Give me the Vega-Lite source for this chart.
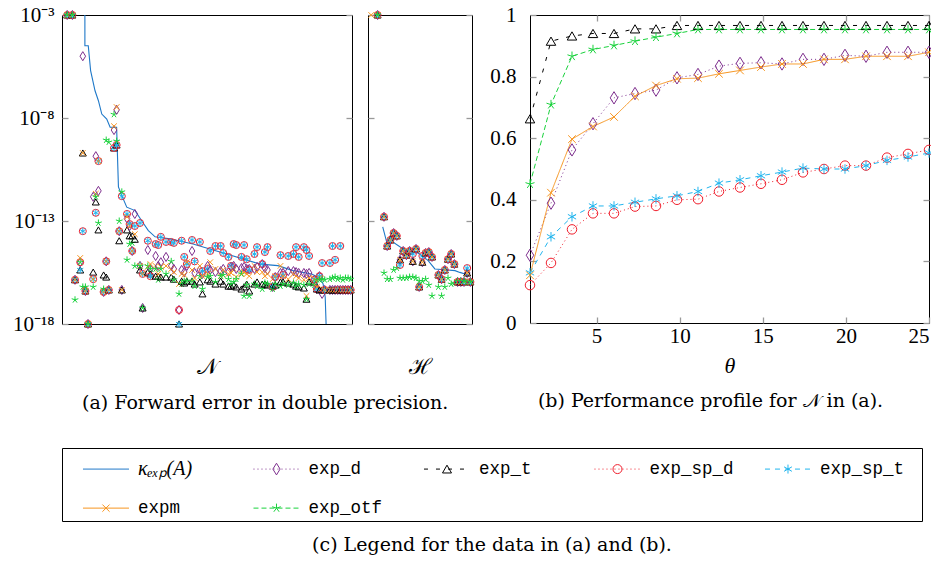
{
  "$schema": "https://vega.github.io/schema/vega-lite/v6.json",
  "padding": {"left": 11, "top": 3, "right": 0, "bottom": 0},
  "config": {
    "view": {"stroke": "#000", "strokeWidth": 1},
    "axis": {"grid": false, "domain": false, "labelFont": "Liberation Serif", "labelFontSize": 21, "labelColor": "#000", "titleFont": "Liberation Serif", "titleFontSize": 22, "titleFontWeight": "normal", "titleColor": "#000", "tickColor": "#999", "tickWidth": 1.3, "tickSize": -6, "labelPadding": 14},
    "title": {"font": "DejaVu Serif", "fontSize": 19, "fontWeight": "normal", "color": "#000", "orient": "bottom", "anchor": "middle", "offset": 16}
  },
  "datasets": {
    "kapN": [
      {"i": 8.8, "kappa": 1e-2}, {"i": 8.8, "kappa": 3.2e-5}, {"i": 10.1, "kappa": 3.2e-5}, {"i": 11.0, "kappa": 2e-6}, {"i": 12.7, "kappa": 2.1e-7}, {"i": 14.0, "kappa": 6.9e-8}, {"i": 15.3, "kappa": 1.55e-8}, {"i": 17.2, "kappa": 8.9e-9}, {"i": 18.5, "kappa": 3.6e-9}, {"i": 21.0, "kappa": 3.5e-9}, {"i": 21.7, "kappa": 4.5e-12}, {"i": 23.0, "kappa": 1.7e-12}, {"i": 24.9, "kappa": 4.7e-13}, {"i": 28.1, "kappa": 3.2e-13}, {"i": 30.7, "kappa": 1.0e-13}, {"i": 33.2, "kappa": 3.4e-14}, {"i": 35.8, "kappa": 1.7e-14}, {"i": 41.5, "kappa": 1.35e-14}, {"i": 50.4, "kappa": 7.6e-15}, {"i": 63.3, "kappa": 2.5e-15}, {"i": 76.2, "kappa": 8.1e-16}, {"i": 83, "kappa": 6.8e-16}, {"i": 88.8, "kappa": 3.9e-16}, {"i": 96, "kappa": 2.7e-16}, {"i": 99.2, "kappa": 1.7e-16}, {"i": 100.4, "kappa": 8.7e-17}, {"i": 101.2, "kappa": 2.0e-17}, {"i": 101.8, "kappa": 1e-19}
    ],
    "kapH": [
      {"i": 4.6, "kappa": 5.2e-14}, {"i": 5.8, "kappa": 1.0e-14}, {"i": 7.9, "kappa": 9.3e-15}, {"i": 11, "kappa": 4.4e-15}, {"i": 15.2, "kappa": 3.0e-15}, {"i": 16.8, "kappa": 2.1e-15}, {"i": 18.8, "kappa": 1.2e-15}, {"i": 20.9, "kappa": 4.7e-16}, {"i": 23, "kappa": 4.4e-16}, {"i": 27.2, "kappa": 3.9e-16}, {"i": 28.7, "kappa": 3.2e-16}, {"i": 30.8, "kappa": 2.5e-16}, {"i": 31.9, "kappa": 2.2e-16}
    ],
    "errN": [
      {"i": 2, "exp_d": 1e-3, "exp_t": 1e-3, "exp_sp_d": 1e-3, "exp_sp_t": 1e-3, "expm": 1e-3, "exp_otf": 1e-3},
      {"i": 4, "exp_d": 1e-3, "exp_t": 1e-3, "exp_sp_d": 1e-3, "exp_sp_t": 1e-3, "expm": 1e-3, "exp_otf": 1e-3},
      {"i": 5, "exp_d": 1.4e-16, "exp_t": 1.4e-16, "exp_sp_d": 1.4e-16, "exp_sp_t": 1.4e-16, "expm": 1.4e-16, "exp_otf": 1.5e-17},
      {"i": 7, "exp_d": 1e-15, "exp_t": 4.2e-16, "exp_sp_d": 1e-15, "exp_sp_t": 4.2e-16, "expm": 1.6e-15, "exp_otf": 1e-15},
      {"i": 8, "exp_d": 1e-5, "exp_t": 2e-10, "exp_sp_d": 3.2e-14, "exp_sp_t": 3.2e-14, "expm": 2e-10, "exp_otf": 6.3e-17},
      {"i": 9, "exp_d": 4e-17, "exp_t": 4e-17, "exp_sp_d": 4e-17, "exp_sp_t": 4e-17, "expm": 4e-17, "exp_otf": 6.3e-17},
      {"i": 10, "exp_d": 1e-18, "exp_t": 1e-18, "exp_sp_d": 1e-18, "exp_sp_t": 1e-18, "expm": 1e-18, "exp_otf": 1e-18},
      {"i": 12, "exp_d": 1.5e-12, "exp_t": 3.3e-16, "exp_sp_d": 1.5e-16, "exp_sp_t": 1.5e-16, "expm": 1.5e-16, "exp_otf": 6.3e-17},
      {"i": 13, "exp_d": 1.4e-10, "exp_t": 8.4e-13, "exp_sp_d": 2.5e-13, "exp_sp_t": 2.5e-13, "expm": 2.1e-12, "exp_otf": 1.5e-12},
      {"i": 14, "exp_d": 2.9e-12, "exp_t": 3.7e-14, "exp_sp_d": 8.1e-11, "exp_sp_t": 8.1e-11, "expm": 8.1e-11, "exp_otf": 8e-14},
      {"i": 16, "exp_d": 3.6e-17, "exp_t": 2.4e-16, "exp_sp_d": 3.6e-17, "exp_sp_t": 3.6e-17, "expm": 3.6e-17, "exp_otf": 5e-17},
      {"i": 17, "exp_d": 1.1e-15, "exp_t": 1.9e-16, "exp_sp_d": 1.1e-15, "exp_sp_t": 1.1e-15, "expm": 1.1e-15, "exp_otf": 8.5e-10},
      {"i": 18, "exp_d": 4.5e-17, "exp_t": 4.5e-17, "exp_sp_d": 4.5e-17, "exp_sp_t": 4.5e-17, "expm": 4.5e-17, "exp_otf": 6.8e-10},
      {"i": 20, "exp_d": 2.6e-9, "exp_t": 3.5e-10, "exp_sp_d": 3.5e-10, "exp_sp_t": 3.5e-10, "expm": 4e-9, "exp_otf": 1.5e-8},
      {"i": 21, "exp_d": 2.5e-8, "exp_t": 4.9e-10, "exp_sp_d": 4.9e-10, "exp_sp_t": 4.9e-10, "expm": 3.4e-8, "exp_otf": 7.6e-10},
      {"i": 22, "exp_d": 3.2e-14, "exp_t": 1.1e-14, "exp_sp_d": 3.2e-14, "exp_sp_t": 3.2e-14, "expm": 3.2e-14, "exp_otf": 1e-13},
      {"i": 23, "exp_d": 4.5e-17, "exp_t": 4.5e-17, "exp_sp_d": 1.6e-12, "exp_sp_t": 1.6e-12, "expm": 4.5e-17, "exp_otf": 2.6e-12},
      {"i": 25, "exp_d": 1.3e-13, "exp_t": 3.7e-14, "exp_sp_d": 2.2e-13, "exp_sp_t": 2.2e-13, "expm": 1.6e-13, "exp_otf": 1.3e-15},
      {"i": 26, "exp_d": 5.7e-14, "exp_t": 1.9e-14, "exp_sp_d": 7.1e-14, "exp_sp_t": 7.1e-14, "expm": 5.7e-14, "exp_otf": 7.6e-15},
      {"i": 27, "exp_d": 3.5e-15, "exp_t": 1.9e-14, "exp_sp_d": 3.5e-15, "exp_sp_t": 3.5e-15, "expm": 3.5e-15, "exp_otf": 8.6e-15},
      {"i": 28, "exp_d": 2.2e-13, "exp_t": 1.3e-14, "exp_sp_d": 5.7e-14, "exp_sp_t": 5.7e-14, "expm": 2.3e-14, "exp_otf": 6.6e-16},
      {"i": 30, "exp_d": 6.6e-16, "exp_t": 4.2e-16, "exp_sp_d": 8e-14, "exp_sp_t": 8e-14, "expm": 6.6e-16, "exp_otf": 6.6e-16},
      {"i": 31, "exp_d": 6e-18, "exp_t": 6e-18, "exp_sp_d": 2.7e-16, "exp_sp_t": 2.7e-16, "expm": 2.7e-16, "exp_otf": 6e-18},
      {"i": 33, "exp_d": 3.9e-15, "exp_t": 3.3e-16, "exp_sp_d": 1.1e-14, "exp_sp_t": 1.1e-14, "expm": 5.9e-16, "exp_otf": 6.6e-16},
      {"i": 34, "exp_d": 4.7e-16, "exp_t": 2.7e-16, "exp_sp_d": 2.1e-16, "exp_sp_t": 2.1e-16, "expm": 8.1e-16, "exp_otf": 4.7e-16},
      {"i": 36, "exp_d": 2e-15, "exp_t": 2.1e-16, "exp_sp_d": 7.6e-15, "exp_sp_t": 7.6e-15, "expm": 6.6e-16, "exp_otf": 4.7e-16},
      {"i": 37, "exp_d": 6.6e-16, "exp_t": 2.1e-16, "exp_sp_d": 6.8e-15, "exp_sp_t": 6.8e-15, "expm": 2.7e-16, "exp_otf": 1.4e-16},
      {"i": 38, "exp_d": 1e-15, "exp_t": 1.9e-16, "exp_sp_d": 1.7e-14, "exp_sp_t": 1.7e-14, "expm": 5.9e-16, "exp_otf": 4.7e-16},
      {"i": 40, "exp_d": 1.8e-15, "exp_t": 1.9e-16, "exp_sp_d": 9.6e-15, "exp_sp_t": 9.6e-15, "expm": 6.6e-16, "exp_otf": 2.7e-16},
      {"i": 42, "exp_d": 6.6e-16, "exp_t": 1.9e-16, "exp_sp_d": 9.6e-15, "exp_sp_t": 9.6e-15, "expm": 4.7e-16, "exp_otf": 1.1e-15},
      {"i": 43, "exp_d": 4.7e-16, "exp_t": 1.5e-16, "exp_sp_d": 8.6e-15, "exp_sp_t": 8.6e-15, "expm": 3.3e-16, "exp_otf": 1.4e-16},
      {"i": 45, "exp_d": 4.8e-18, "exp_t": 1e-18, "exp_sp_d": 4.8e-18, "exp_sp_t": 1e-18, "expm": 8.7e-17, "exp_otf": 2.9e-17},
      {"i": 46, "exp_d": 4.2e-16, "exp_t": 1.2e-16, "exp_sp_d": 1.1e-14, "exp_sp_t": 1.1e-14, "expm": 2.7e-16, "exp_otf": 8.7e-17},
      {"i": 47, "exp_d": 3.3e-16, "exp_t": 9.8e-17, "exp_sp_d": 1.8e-15, "exp_sp_t": 1.8e-15, "expm": 2.4e-16, "exp_otf": 1.2e-16},
      {"i": 48, "exp_d": 6.6e-16, "exp_t": 1.2e-16, "exp_sp_d": 8.1e-16, "exp_sp_t": 8.1e-16, "expm": 1e-15, "exp_otf": 1.2e-16},
      {"i": 50, "exp_d": 3.5e-15, "exp_t": 1.2e-16, "exp_sp_d": 1.2e-14, "exp_sp_t": 1.2e-14, "expm": 4.2e-16, "exp_otf": 1.2e-16},
      {"i": 51, "exp_d": 3e-16, "exp_t": 8.7e-17, "exp_sp_d": 1.1e-15, "exp_sp_t": 1.1e-15, "expm": 1.7e-16, "exp_otf": 6.9e-17},
      {"i": 53, "exp_d": 4.2e-16, "exp_t": 1.1e-16, "exp_sp_d": 9.6e-15, "exp_sp_t": 9.6e-15, "expm": 6.6e-16, "exp_otf": 2.1e-16},
      {"i": 54, "exp_d": 2.7e-16, "exp_t": 2.9e-17, "exp_sp_d": 3.7e-16, "exp_sp_t": 3.7e-16, "expm": 2.1e-16, "exp_otf": 5e-17},
      {"i": 56, "exp_d": 6.6e-16, "exp_t": 1.4e-16, "exp_sp_d": 4.7e-16, "exp_sp_t": 4.7e-16, "expm": 2.7e-16, "exp_otf": 1.9e-16},
      {"i": 57, "exp_d": 4.2e-16, "exp_t": 1.2e-16, "exp_sp_d": 3.5e-15, "exp_sp_t": 3.5e-15, "expm": 1e-15, "exp_otf": 2.1e-16},
      {"i": 59, "exp_d": 3.3e-16, "exp_t": 8.7e-17, "exp_sp_d": 6.1e-15, "exp_sp_t": 6.1e-15, "expm": 4.7e-16, "exp_otf": 1.1e-16},
      {"i": 61, "exp_d": 3.7e-16, "exp_t": 1.2e-16, "exp_sp_d": 6.1e-15, "exp_sp_t": 6.1e-15, "expm": 2.1e-16, "exp_otf": 2.1e-16},
      {"i": 62, "exp_d": 4.7e-16, "exp_t": 8.7e-17, "exp_sp_d": 2.8e-15, "exp_sp_t": 2.8e-15, "expm": 4.2e-16, "exp_otf": 2.4e-16},
      {"i": 64, "exp_d": 3.3e-16, "exp_t": 6.9e-17, "exp_sp_d": 1.8e-15, "exp_sp_t": 1.8e-15, "expm": 2.7e-16, "exp_otf": 1.5e-16},
      {"i": 65, "exp_d": 5.9e-16, "exp_t": 6.9e-17, "exp_sp_d": 6.6e-16, "exp_sp_t": 6.6e-16, "expm": 3e-16, "exp_otf": 8.7e-17},
      {"i": 66, "exp_d": 6.6e-16, "exp_t": 7.8e-17, "exp_sp_d": 7.6e-15, "exp_sp_t": 7.6e-15, "expm": 4.7e-16, "exp_otf": 1.1e-16},
      {"i": 67, "exp_d": 4.7e-16, "exp_t": 6.3e-17, "exp_sp_d": 6.8e-15, "exp_sp_t": 6.8e-15, "expm": 1.9e-16, "exp_otf": 1.5e-16},
      {"i": 69, "exp_d": 5.2e-16, "exp_t": 5e-17, "exp_sp_d": 1.8e-15, "exp_sp_t": 1.8e-15, "expm": 2.7e-16, "exp_otf": 2.7e-16},
      {"i": 70, "exp_d": 5.9e-16, "exp_t": 6.3e-17, "exp_sp_d": 6.8e-15, "exp_sp_t": 6.8e-15, "expm": 3.3e-16, "exp_otf": 2.3e-17},
      {"i": 71, "exp_d": 4.7e-16, "exp_t": 8.7e-17, "exp_sp_d": 1.4e-15, "exp_sp_t": 1.4e-15, "expm": 2.7e-16, "exp_otf": 7.8e-17},
      {"i": 72, "exp_d": 4.7e-16, "exp_t": 4e-17, "exp_sp_d": 4.2e-16, "exp_sp_t": 4.2e-16, "expm": 2.1e-16, "exp_otf": 2.3e-17},
      {"i": 74, "exp_d": 4.7e-16, "exp_t": 8.7e-17, "exp_sp_d": 2.5e-15, "exp_sp_t": 2.5e-15, "expm": 6.6e-16, "exp_otf": 8.7e-17},
      {"i": 75, "exp_d": 5.9e-16, "exp_t": 1.1e-16, "exp_sp_d": 5.4e-15, "exp_sp_t": 5.4e-15, "expm": 3.3e-16, "exp_otf": 6.9e-17},
      {"i": 77, "exp_d": 8.1e-16, "exp_t": 8.7e-17, "exp_sp_d": 8.1e-16, "exp_sp_t": 8.1e-16, "expm": 3.3e-16, "exp_otf": 5e-17},
      {"i": 78, "exp_d": 5.2e-16, "exp_t": 8.7e-17, "exp_sp_d": 3.1e-15, "exp_sp_t": 3.1e-15, "expm": 2.1e-16, "exp_otf": 9.8e-17},
      {"i": 79, "exp_d": 4.2e-16, "exp_t": 7.8e-17, "exp_sp_d": 5.4e-15, "exp_sp_t": 5.4e-15, "expm": 2.7e-16, "exp_otf": 8.7e-17},
      {"i": 81, "exp_d": 6.3e-17, "exp_t": 6.9e-17, "exp_sp_d": 6.3e-17, "exp_sp_t": 6.3e-17, "expm": 1.5e-16, "exp_otf": 5e-17},
      {"i": 82, "exp_d": 1.9e-16, "exp_t": 7.8e-17, "exp_sp_d": 1.9e-16, "exp_sp_t": 1.9e-16, "expm": 2.1e-16, "exp_otf": 8.7e-17},
      {"i": 84, "exp_d": 3e-16, "exp_t": 1.1e-16, "exp_sp_d": 2.2e-15, "exp_sp_t": 2.2e-15, "expm": 6.6e-16, "exp_otf": 6.9e-17},
      {"i": 85, "exp_d": 3e-16, "exp_t": 1.1e-16, "exp_sp_d": 2.4e-16, "exp_sp_t": 2.4e-16, "expm": 2.1e-16, "exp_otf": 8.7e-17},
      {"i": 87, "exp_d": 3.7e-16, "exp_t": 9.8e-17, "exp_sp_d": 2e-15, "exp_sp_t": 2e-15, "expm": 1.5e-16, "exp_otf": 7.8e-17},
      {"i": 89, "exp_d": 3.7e-16, "exp_t": 8.7e-17, "exp_sp_d": 2.5e-15, "exp_sp_t": 2.5e-15, "expm": 2.7e-16, "exp_otf": 9.8e-17},
      {"i": 90, "exp_d": 3.3e-16, "exp_t": 6.9e-17, "exp_sp_d": 5.4e-15, "exp_sp_t": 5.4e-15, "expm": 2.1e-16, "exp_otf": 6.3e-17},
      {"i": 91, "exp_d": 3e-16, "exp_t": 6.3e-17, "exp_sp_d": 1.8e-15, "exp_sp_t": 1.8e-15, "expm": 1.7e-16, "exp_otf": 8.7e-17},
      {"i": 93, "exp_d": 3e-16, "exp_t": 5.6e-17, "exp_sp_d": 5.4e-15, "exp_sp_t": 5.4e-15, "expm": 1.4e-16, "exp_otf": 7.8e-17},
      {"i": 94, "exp_d": 2.7e-16, "exp_t": 1.6e-17, "exp_sp_d": 3.9e-15, "exp_sp_t": 3.9e-15, "expm": 2.3e-17, "exp_otf": 1.6e-17},
      {"i": 95, "exp_d": 3e-16, "exp_t": 1.1e-16, "exp_sp_d": 2e-15, "exp_sp_t": 2e-15, "expm": 1.7e-16, "exp_otf": 8.7e-17},
      {"i": 97, "exp_d": 1.4e-16, "exp_t": 1.1e-16, "exp_sp_d": 1.4e-16, "exp_sp_t": 1.4e-16, "expm": 1.5e-16, "exp_otf": 7.8e-17},
      {"i": 98, "exp_d": 5e-17, "exp_t": 5e-17, "exp_sp_d": 5e-17, "exp_sp_t": 5e-17, "expm": 6.3e-17, "exp_otf": 1.4e-16},
      {"i": 99, "exp_d": 2.1e-16, "exp_t": 4.5e-17, "exp_sp_d": 2.1e-16, "exp_sp_t": 2.1e-16, "expm": 1.7e-16, "exp_otf": 1.4e-16},
      {"i": 100, "exp_d": 2.9e-17, "exp_t": 4.5e-17, "exp_sp_d": 9.1e-16, "exp_sp_t": 9.1e-16, "expm": 5e-17, "exp_otf": 1.5e-16},
      {"i": 101, "exp_d": 4.5e-17, "exp_t": 4.5e-17, "exp_sp_d": 4.5e-17, "exp_sp_t": 4.5e-17, "expm": 4.5e-17, "exp_otf": 1.4e-16},
      {"i": 103, "exp_d": 4.5e-17, "exp_t": 4.5e-17, "exp_sp_d": 9.1e-16, "exp_sp_t": 9.1e-16, "expm": 4.5e-17, "exp_otf": 1.5e-16},
      {"i": 104, "exp_d": 4.5e-17, "exp_t": 4.5e-17, "exp_sp_d": 6.1e-15, "exp_sp_t": 6.1e-15, "expm": 4.5e-17, "exp_otf": 1.7e-16},
      {"i": 105, "exp_d": 4.5e-17, "exp_t": 4.5e-17, "exp_sp_d": 1.3e-15, "exp_sp_t": 1.3e-15, "expm": 4.5e-17, "exp_otf": 1.9e-16},
      {"i": 106, "exp_d": 4.5e-17, "exp_t": 4.5e-17, "exp_sp_d": 4.5e-17, "exp_sp_t": 4.5e-17, "expm": 4.5e-17, "exp_otf": 1.5e-16},
      {"i": 107, "exp_d": 4.5e-17, "exp_t": 4.5e-17, "exp_sp_d": 6.1e-15, "exp_sp_t": 6.1e-15, "expm": 4.5e-17, "exp_otf": 1.7e-16},
      {"i": 108, "exp_d": 4.5e-17, "exp_t": 4.5e-17, "exp_sp_d": 4.5e-17, "exp_sp_t": 4.5e-17, "expm": 4.5e-17, "exp_otf": 1.4e-16},
      {"i": 109, "exp_d": 4.5e-17, "exp_t": 4.5e-17, "exp_sp_d": 4.5e-17, "exp_sp_t": 4.5e-17, "expm": 4.5e-17, "exp_otf": 1.7e-16},
      {"i": 110, "exp_d": 4.5e-17, "exp_t": 4.5e-17, "exp_sp_d": 4.5e-17, "exp_sp_t": 4.5e-17, "expm": 4.5e-17, "exp_otf": 1.7e-16},
      {"i": 111, "exp_d": 4.5e-17, "exp_t": 4.5e-17, "exp_sp_d": 4.5e-17, "exp_sp_t": 4.5e-17, "expm": 4.5e-17, "exp_otf": 1.5e-16}
    ],
    "errH": [
      {"i": 1, "expm": 1e-3},
      {"i": 3, "exp_d": 1e-3, "exp_t": 1e-3, "exp_sp_d": 1e-3, "exp_sp_t": 1e-3, "expm": 1e-3, "exp_otf": 1e-3},
      {"i": 5, "exp_d": 1.6e-13, "exp_t": 1.6e-13, "exp_sp_d": 1.6e-13, "exp_sp_t": 1.6e-13, "expm": 1.6e-13, "exp_otf": 3e-16},
      {"i": 6, "exp_d": 6.1e-15, "exp_t": 6.1e-15, "exp_sp_d": 6.1e-15, "exp_sp_t": 6.1e-15, "expm": 6.1e-15, "exp_otf": 1.5e-16},
      {"i": 7, "exp_d": 1.2e-14, "exp_t": 1.2e-14, "exp_sp_d": 1.2e-14, "exp_sp_t": 1.2e-14, "expm": 1.2e-14, "exp_otf": 1.5e-16},
      {"i": 8, "exp_d": 2.6e-14, "exp_t": 2.6e-14, "exp_sp_d": 2.6e-14, "exp_sp_t": 2.6e-14, "expm": 2.6e-14, "exp_otf": 4.2e-16},
      {"i": 9, "exp_d": 1.9e-14, "exp_t": 1.9e-14, "exp_sp_d": 1.9e-14, "exp_sp_t": 1.9e-14, "expm": 1.9e-14, "exp_otf": 5.2e-16},
      {"i": 10, "exp_d": 1.3e-15, "exp_t": 1.3e-15, "exp_sp_d": 7.3e-16, "exp_sp_t": 7.3e-16, "expm": 1.3e-15, "exp_otf": 1.7e-16},
      {"i": 11, "exp_d": 3.5e-15, "exp_t": 3.5e-15, "exp_sp_d": 3.5e-15, "exp_sp_t": 3.5e-15, "expm": 3.5e-15, "exp_otf": 1.7e-16},
      {"i": 12, "exp_d": 2.2e-15, "exp_t": 2.2e-15, "exp_sp_d": 2.2e-15, "exp_sp_t": 2.2e-15, "expm": 2.2e-15, "exp_otf": 1.7e-16},
      {"i": 13, "exp_d": 3.5e-15, "exp_t": 3.5e-15, "exp_sp_d": 3.5e-15, "exp_sp_t": 3.5e-15, "expm": 3.5e-15, "exp_otf": 1.9e-16},
      {"i": 14, "exp_d": 1.1e-15, "exp_t": 1.1e-15, "exp_sp_d": 2.5e-15, "exp_sp_t": 2.5e-15, "expm": 1.1e-15, "exp_otf": 1.9e-16},
      {"i": 15, "exp_d": 4.4e-15, "exp_t": 4.4e-15, "exp_sp_d": 4.4e-15, "exp_sp_t": 4.4e-15, "expm": 4.4e-15, "exp_otf": 1.7e-16},
      {"i": 16, "exp_d": 6.3e-17, "exp_t": 6.3e-17, "exp_sp_d": 6.3e-17, "exp_sp_t": 6.3e-17, "expm": 6.3e-17, "exp_otf": 1.2e-16},
      {"i": 17, "exp_d": 1e-15, "exp_t": 1e-15, "exp_sp_d": 2e-15, "exp_sp_t": 2e-15, "expm": 1e-15, "exp_otf": 1.2e-16},
      {"i": 18, "exp_d": 2.8e-15, "exp_t": 2.8e-15, "exp_sp_d": 2.8e-15, "exp_sp_t": 2.8e-15, "expm": 2.8e-15, "exp_otf": 1.5e-16},
      {"i": 19, "exp_d": 3.1e-15, "exp_t": 3.1e-15, "exp_sp_d": 3.1e-15, "exp_sp_t": 3.1e-15, "expm": 3.1e-15, "exp_otf": 7.8e-17},
      {"i": 20, "exp_d": 1.8e-15, "exp_t": 1.8e-15, "exp_sp_d": 1.8e-15, "exp_sp_t": 1.8e-15, "expm": 1.8e-15, "exp_otf": 2.3e-17},
      {"i": 22, "exp_d": 2.4e-16, "exp_t": 2.4e-16, "exp_sp_d": 2.4e-16, "exp_sp_t": 2.4e-16, "expm": 2.4e-16, "exp_otf": 6.3e-17},
      {"i": 23, "exp_d": 1.5e-16, "exp_t": 1.5e-16, "exp_sp_d": 1.5e-16, "exp_sp_t": 1.5e-16, "expm": 1.5e-16, "exp_otf": 2.3e-17},
      {"i": 24, "exp_d": 4.2e-16, "exp_t": 4.2e-16, "exp_sp_d": 4.2e-16, "exp_sp_t": 4.2e-16, "expm": 4.2e-16, "exp_otf": 6.3e-17},
      {"i": 25, "exp_d": 1.4e-15, "exp_t": 1.4e-15, "exp_sp_d": 1.4e-15, "exp_sp_t": 1.4e-15, "expm": 1.4e-15, "exp_otf": 1.7e-16},
      {"i": 26, "exp_d": 2.5e-15, "exp_t": 2.5e-15, "exp_sp_d": 2.5e-15, "exp_sp_t": 2.5e-15, "expm": 2.5e-15, "exp_otf": 8.7e-17},
      {"i": 27, "exp_d": 8.1e-16, "exp_t": 8.1e-16, "exp_sp_d": 8.1e-16, "exp_sp_t": 8.1e-16, "expm": 8.1e-16, "exp_otf": 9.8e-17},
      {"i": 28, "exp_d": 1.1e-16, "exp_t": 1.1e-16, "exp_sp_d": 1.1e-16, "exp_sp_t": 1.1e-16, "expm": 1.1e-16, "exp_otf": 1.2e-16},
      {"i": 29, "exp_d": 1.1e-16, "exp_t": 1.1e-16, "exp_sp_d": 1.1e-16, "exp_sp_t": 1.1e-16, "expm": 1.1e-16, "exp_otf": 1.2e-16},
      {"i": 30, "exp_d": 1.1e-16, "exp_t": 1.1e-16, "exp_sp_d": 1.1e-16, "exp_sp_t": 1.1e-16, "expm": 1.1e-16, "exp_otf": 1.2e-16},
      {"i": 31, "exp_d": 3e-16, "exp_t": 3e-16, "exp_sp_d": 5.2e-16, "exp_sp_t": 5.2e-16, "expm": 3e-16, "exp_otf": 1.1e-16},
      {"i": 32, "exp_d": 1.1e-16, "exp_t": 1.1e-16, "exp_sp_d": 1.1e-16, "exp_sp_t": 1.1e-16, "expm": 1.1e-16, "exp_otf": 1.1e-16}
    ],
    "prof": [
      {"theta": 1, "exp_d": 0.220, "exp_t": 0.663, "exp_sp_d": 0.123, "exp_sp_t": 0.163, "expm": 0.155, "exp_otf": 0.451},
      {"theta": 2.263, "exp_d": 0.389, "exp_t": 0.915, "exp_sp_d": 0.195, "exp_sp_t": 0.280, "expm": 0.423, "exp_otf": 0.709},
      {"theta": 3.526, "exp_d": 0.562, "exp_t": 0.932, "exp_sp_d": 0.304, "exp_sp_t": 0.345, "expm": 0.597, "exp_otf": 0.866},
      {"theta": 4.789, "exp_d": 0.647, "exp_t": 0.940, "exp_sp_d": 0.356, "exp_sp_t": 0.380, "expm": 0.638, "exp_otf": 0.888},
      {"theta": 6.053, "exp_d": 0.731, "exp_t": 0.940, "exp_sp_d": 0.356, "exp_sp_t": 0.380, "expm": 0.669, "exp_otf": 0.901},
      {"theta": 7.316, "exp_d": 0.745, "exp_t": 0.955, "exp_sp_d": 0.378, "exp_sp_t": 0.392, "expm": 0.736, "exp_otf": 0.915},
      {"theta": 8.579, "exp_d": 0.756, "exp_t": 0.955, "exp_sp_d": 0.380, "exp_sp_t": 0.403, "expm": 0.771, "exp_otf": 0.928},
      {"theta": 9.842, "exp_d": 0.796, "exp_t": 0.966, "exp_sp_d": 0.400, "exp_sp_t": 0.413, "expm": 0.793, "exp_otf": 0.940},
      {"theta": 11.105, "exp_d": 0.807, "exp_t": 0.966, "exp_sp_d": 0.402, "exp_sp_t": 0.427, "expm": 0.795, "exp_otf": 0.953},
      {"theta": 12.368, "exp_d": 0.834, "exp_t": 0.966, "exp_sp_d": 0.427, "exp_sp_t": 0.454, "expm": 0.809, "exp_otf": 0.953},
      {"theta": 13.632, "exp_d": 0.843, "exp_t": 0.966, "exp_sp_d": 0.440, "exp_sp_t": 0.465, "expm": 0.820, "exp_otf": 0.953},
      {"theta": 14.895, "exp_d": 0.845, "exp_t": 0.966, "exp_sp_d": 0.452, "exp_sp_t": 0.478, "expm": 0.831, "exp_otf": 0.953},
      {"theta": 16.158, "exp_d": 0.841, "exp_t": 0.966, "exp_sp_d": 0.465, "exp_sp_t": 0.490, "expm": 0.841, "exp_otf": 0.953},
      {"theta": 17.421, "exp_d": 0.856, "exp_t": 0.966, "exp_sp_d": 0.489, "exp_sp_t": 0.503, "expm": 0.841, "exp_otf": 0.953},
      {"theta": 18.684, "exp_d": 0.856, "exp_t": 0.966, "exp_sp_d": 0.500, "exp_sp_t": 0.500, "expm": 0.856, "exp_otf": 0.953},
      {"theta": 19.947, "exp_d": 0.869, "exp_t": 0.966, "exp_sp_d": 0.511, "exp_sp_t": 0.500, "expm": 0.856, "exp_otf": 0.953},
      {"theta": 21.211, "exp_d": 0.866, "exp_t": 0.966, "exp_sp_d": 0.511, "exp_sp_t": 0.511, "expm": 0.866, "exp_otf": 0.953},
      {"theta": 22.474, "exp_d": 0.879, "exp_t": 0.966, "exp_sp_d": 0.537, "exp_sp_t": 0.528, "expm": 0.866, "exp_otf": 0.953},
      {"theta": 23.737, "exp_d": 0.879, "exp_t": 0.966, "exp_sp_d": 0.549, "exp_sp_t": 0.539, "expm": 0.866, "exp_otf": 0.953},
      {"theta": 25, "exp_d": 0.879, "exp_t": 0.966, "exp_sp_d": 0.562, "exp_sp_t": 0.552, "expm": 0.879, "exp_otf": 0.953}
    ],
    "legend": [
      {"method": "kappa", "label": "κₑₓₚ(A)", "col": 0, "row": 0},
      {"method": "exp_d", "label": "exp_d", "col": 1, "row": 0},
      {"method": "exp_t", "label": "exp_t", "col": 2, "row": 0},
      {"method": "exp_sp_d", "label": "exp_sp_d", "col": 3, "row": 0},
      {"method": "exp_sp_t", "label": "exp_sp_t", "col": 4, "row": 0},
      {"method": "expm", "label": "expm", "col": 0, "row": 1},
      {"method": "exp_otf", "label": "exp_otf", "col": 1, "row": 1}
    ]
  },
  "vconcat": [
    {
      "hconcat": [
        {
          "title": {"text": "(a) Forward error in double precision.", "dx": 21},
          "hconcat": [
            {
              "width": 290, "height": 309,
              "layer": [
                {
                  "data": {"name": "kapN"},
                  "mark": {"type": "line", "clip": true, "color": "#1e78c8", "strokeWidth": 1.1},
                  "encoding": {
                    "x": {"field": "i", "type": "quantitative", "scale": {"domain": [0, 111.5], "nice": false, "zero": false}, "axis": {"title": "𝒩", "labels": false, "ticks": false, "titlePadding": 32}},
                    "y": {"field": "kappa", "type": "quantitative", "scale": {"type": "log", "domain": [1e-18, 1e-3], "nice": false}, "axis": {"orient": "left", "title": null, "values": [1e-18, 1e-13, 1e-8, 1e-3], "labelExpr": "datum.value < 1e-17 ? '10⁻¹⁸' : datum.value < 1e-12 ? '10⁻¹³' : datum.value < 1e-7 ? '10⁻⁸' : '10⁻³'"}},
                    "order": {"value": null}
                  }
                },
                {
                  "data": {"name": "errN"},
                  "transform": [{"fold": ["exp_d", "exp_t", "exp_sp_d", "exp_sp_t", "expm", "exp_otf"], "as": ["method", "err"]}],
                  "mark": {"type": "point", "filled": false, "size": 49, "strokeWidth": 1, "opacity": 1},
                  "encoding": {
                    "x": {"field": "i", "type": "quantitative", "scale": {"domain": [0, 111.5], "nice": false, "zero": false}, "axis": null},
                    "y": {"field": "err", "type": "quantitative", "scale": {"type": "log", "domain": [1e-18, 1e-3], "nice": false}, "axis": {"orient": "right", "title": null, "labels": false, "values": [1e-18, 1e-13, 1e-8, 1e-3]}},
                    "color": {"field": "method", "type": "nominal", "legend": null, "scale": {"domain": ["kappa", "exp_d", "exp_t", "exp_sp_d", "exp_sp_t", "expm", "exp_otf"], "range": ["#1e78c8", "#7e2f8e", "#000000", "#f01e2c", "#22b5ee", "#f7941d", "#19d23c"]}},
                    "shape": {"field": "method", "type": "nominal", "legend": null, "scale": {"domain": ["kappa", "exp_d", "exp_t", "exp_sp_d", "exp_sp_t", "expm", "exp_otf"], "range": ["circle", "M0,-1.3L0.8,0L0,1.3L-0.8,0Z", "triangle-up", "circle", "M0,-1L0,1M-0.87,-0.5L0.87,0.5M-0.87,0.5L0.87,-0.5", "M-0.8,-0.8L0.8,0.8M-0.8,0.8L0.8,-0.8", "M0,0L0,-1M0,0L0.951,-0.309M0,0L0.588,0.809M0,0L-0.588,0.809M0,0L-0.951,-0.309"]}}
                  }
                }
              ],
              "resolve": {"axis": {"x": "independent", "y": "independent"}}
            },
            {
              "width": 104, "height": 309,
              "layer": [
                {
                  "data": {"name": "kapH"},
                  "mark": {"type": "line", "clip": true, "color": "#1e78c8", "strokeWidth": 1.1},
                  "encoding": {
                    "x": {"field": "i", "type": "quantitative", "scale": {"domain": [0, 32.5], "nice": false, "zero": false}, "axis": {"title": "ℋ", "labels": false, "ticks": false, "titlePadding": 32}},
                    "y": {"field": "kappa", "type": "quantitative", "scale": {"type": "log", "domain": [1e-18, 1e-3], "nice": false}, "axis": {"orient": "left", "title": null, "labels": false, "values": [1e-18, 1e-13, 1e-8, 1e-3]}},
                    "order": {"value": null}
                  }
                },
                {
                  "data": {"name": "errH"},
                  "transform": [{"fold": ["exp_d", "exp_t", "exp_sp_d", "exp_sp_t", "expm", "exp_otf"], "as": ["method", "err"]}],
                  "mark": {"type": "point", "filled": false, "size": 49, "strokeWidth": 1, "opacity": 1},
                  "encoding": {
                    "x": {"field": "i", "type": "quantitative", "scale": {"domain": [0, 32.5], "nice": false, "zero": false}, "axis": null},
                    "y": {"field": "err", "type": "quantitative", "scale": {"type": "log", "domain": [1e-18, 1e-3], "nice": false}, "axis": {"orient": "right", "title": null, "labels": false, "values": [1e-18, 1e-13, 1e-8, 1e-3]}},
                    "color": {"field": "method", "type": "nominal", "legend": null, "scale": {"domain": ["kappa", "exp_d", "exp_t", "exp_sp_d", "exp_sp_t", "expm", "exp_otf"], "range": ["#1e78c8", "#7e2f8e", "#000000", "#f01e2c", "#22b5ee", "#f7941d", "#19d23c"]}},
                    "shape": {"field": "method", "type": "nominal", "legend": null, "scale": {"domain": ["kappa", "exp_d", "exp_t", "exp_sp_d", "exp_sp_t", "expm", "exp_otf"], "range": ["circle", "M0,-1.3L0.8,0L0,1.3L-0.8,0Z", "triangle-up", "circle", "M0,-1L0,1M-0.87,-0.5L0.87,0.5M-0.87,0.5L0.87,-0.5", "M-0.8,-0.8L0.8,0.8M-0.8,0.8L0.8,-0.8", "M0,0L0,-1M0,0L0.951,-0.309M0,0L0.588,0.809M0,0L-0.588,0.809M0,0L-0.951,-0.309"]}}
                  }
                }
              ],
              "resolve": {"axis": {"x": "independent", "y": "independent"}}
            }
          ],
          "spacing": 8
        },
        {
          "title": {"text": "(b) Performance profile for 𝒩 in (a).", "dx": -19},
          "width": 399, "height": 308,
          "data": {"name": "prof"},
          "transform": [{"fold": ["exp_d", "exp_t", "exp_sp_d", "exp_sp_t", "expm", "exp_otf"], "as": ["method", "frac"]}],
          "layer": [
            {
              "mark": {"type": "line", "strokeWidth": 1},
              "encoding": {
                "x": {"field": "theta", "type": "quantitative", "scale": {"domain": [1, 25], "nice": false, "zero": false}, "axis": {"orient": "bottom", "title": "θ", "titleFontStyle": "italic", "values": [5, 10, 15, 20, 25], "labelPadding": 8, "titlePadding": 9}},
                "y": {"field": "frac", "type": "quantitative", "scale": {"domain": [0, 1], "nice": false}, "axis": {"orient": "left", "title": null, "values": [0, 0.2, 0.4, 0.6, 0.8, 1], "format": "~g", "labelPadding": 20}},
                "color": {"field": "method", "type": "nominal", "legend": null, "scale": {"domain": ["kappa", "exp_d", "exp_t", "exp_sp_d", "exp_sp_t", "expm", "exp_otf"], "range": ["#1e78c8", "#7e2f8e", "#000000", "#f01e2c", "#22b5ee", "#f7941d", "#19d23c"]}},
                "strokeDash": {"field": "method", "type": "nominal", "legend": null, "scale": {"domain": ["kappa", "exp_d", "exp_t", "exp_sp_d", "exp_sp_t", "expm", "exp_otf"], "range": [[1, 0], [1, 3], [4, 8], [1, 3], [5, 5], [1, 0], [5, 3]]}}
              }
            },
            {
              "mark": {"type": "point", "filled": false, "size": 90, "strokeWidth": 1, "opacity": 1},
              "encoding": {
                "x": {"field": "theta", "type": "quantitative", "scale": {"domain": [1, 25], "nice": false, "zero": false}, "axis": {"orient": "top", "title": null, "labels": false, "values": [5, 10, 15, 20, 25]}},
                "y": {"field": "frac", "type": "quantitative", "scale": {"domain": [0, 1], "nice": false}, "axis": {"orient": "right", "title": null, "labels": false, "values": [0, 0.2, 0.4, 0.6, 0.8, 1]}},
                "color": {"field": "method", "type": "nominal", "legend": null, "scale": {"domain": ["kappa", "exp_d", "exp_t", "exp_sp_d", "exp_sp_t", "expm", "exp_otf"], "range": ["#1e78c8", "#7e2f8e", "#000000", "#f01e2c", "#22b5ee", "#f7941d", "#19d23c"]}},
                "shape": {"field": "method", "type": "nominal", "legend": null, "scale": {"domain": ["kappa", "exp_d", "exp_t", "exp_sp_d", "exp_sp_t", "expm", "exp_otf"], "range": ["circle", "M0,-1.3L0.8,0L0,1.3L-0.8,0Z", "triangle-up", "circle", "M0,-1L0,1M-0.87,-0.5L0.87,0.5M-0.87,0.5L0.87,-0.5", "M-0.8,-0.8L0.8,0.8M-0.8,0.8L0.8,-0.8", "M0,0L0,-1M0,0L0.951,-0.309M0,0L0.588,0.809M0,0L-0.588,0.809M0,0L-0.951,-0.309"]}}
              }
            }
          ],
          "resolve": {"axis": {"x": "independent", "y": "independent"}}
        }
      ],
      "spacing": 12
    },
    {
      "title": {"text": "(c) Legend for the data in (a) and (b).", "offset": 15},
      "width": 860, "height": 73,
      "data": {"name": "legend"},
      "encoding": {
        "x": {"field": "col", "type": "quantitative", "scale": {"domain": [-0.258, 4.786], "nice": false, "zero": false}, "axis": null},
        "y": {"field": "row", "type": "quantitative", "scale": {"domain": [-0.54, 1.33], "reverse": true, "nice": false, "zero": false}, "axis": null}
      },
      "layer": [
        {
          "mark": {"type": "point", "shape": "M-1,0L1,0", "size": 2116, "filled": false, "strokeWidth": 1, "opacity": 1},
          "encoding": {
            "color": {"field": "method", "type": "nominal", "legend": null, "scale": {"domain": ["kappa", "exp_d", "exp_t", "exp_sp_d", "exp_sp_t", "expm", "exp_otf"], "range": ["#1e78c8", "#7e2f8e", "#000000", "#f01e2c", "#22b5ee", "#f7941d", "#19d23c"]}},
            "strokeDash": {"field": "method", "type": "nominal", "legend": null, "scale": {"domain": ["kappa", "exp_d", "exp_t", "exp_sp_d", "exp_sp_t", "expm", "exp_otf"], "range": [[1, 0], [1, 3], [4, 8], [1, 3], [5, 5], [1, 0], [5, 3]]}}
          }
        },
        {
          "transform": [{"filter": "datum.method != 'kappa'"}],
          "mark": {"type": "point", "filled": false, "size": 81, "strokeWidth": 1, "opacity": 1},
          "encoding": {
            "color": {"field": "method", "type": "nominal", "legend": null, "scale": {"domain": ["kappa", "exp_d", "exp_t", "exp_sp_d", "exp_sp_t", "expm", "exp_otf"], "range": ["#1e78c8", "#7e2f8e", "#000000", "#f01e2c", "#22b5ee", "#f7941d", "#19d23c"]}},
            "shape": {"field": "method", "type": "nominal", "legend": null, "scale": {"domain": ["kappa", "exp_d", "exp_t", "exp_sp_d", "exp_sp_t", "expm", "exp_otf"], "range": ["circle", "M0,-1.3L0.8,0L0,1.3L-0.8,0Z", "triangle-up", "circle", "M0,-1L0,1M-0.87,-0.5L0.87,0.5M-0.87,0.5L0.87,-0.5", "M-0.8,-0.8L0.8,0.8M-0.8,0.8L0.8,-0.8", "M0,0L0,-1M0,0L0.951,-0.309M0,0L0.588,0.809M0,0L-0.588,0.809M0,0L-0.951,-0.309"]}}
          }
        },
        {
          "transform": [{"filter": "datum.method == 'kappa'"}],
          "mark": {"type": "text", "align": "left", "baseline": "middle", "dx": 32, "font": "Liberation Serif", "fontSize": 20, "fontStyle": "italic", "color": "#000"},
          "encoding": {"text": {"field": "label", "type": "nominal"}}
        },
        {
          "transform": [{"filter": "datum.method != 'kappa'"}],
          "mark": {"type": "text", "align": "left", "baseline": "middle", "dx": 32, "font": "Liberation Mono", "fontSize": 17.5, "color": "#000"},
          "encoding": {"text": {"field": "label", "type": "nominal"}}
        }
      ]
    }
  ],
  "spacing": 34
}
